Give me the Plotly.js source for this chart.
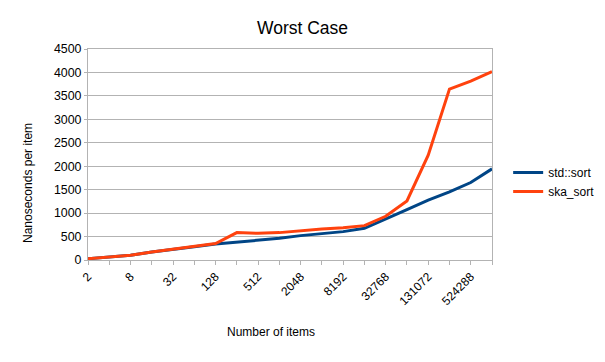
<!DOCTYPE html>
<html><head><meta charset="utf-8">
<script src="https://cdn.plot.ly/plotly-3.0.1.min.js"></script>
<style>html,body{margin:0;padding:0;background:#fff}</style>
</head><body><div id="chart" style="width:605px;height:362px"></div>
<script>
const categories = ['2','4','8','16','32','64','128','256','512','1024','2048','4096','8192','16384','32768','65536','131072','262144','524288','1048576'];
const tickLabels = ['2','','8','','32','','128','','512','','2048','','8192','','32768','','131072','','524288',''];
const stdSort = [28,64,100,170,235,285,340,377,420,463,520,570,605,676,869,1075,1275,1452,1652,1944];
const skaSort = [28,64,100,170,235,285,350,584,570,584,627,662,690,733,933,1260,2236,3645,3816,4016];

const font = 'Liberation Sans, Arial, sans-serif';
const traces = [
  {x: categories, y: stdSort, name: 'std::sort', type: 'scatter', mode: 'lines', line: {color: '#004586', width: 3}},
  {x: categories, y: skaSort, name: 'ska_sort', type: 'scatter', mode: 'lines', line: {color: '#ff420e', width: 3}}
];
const layout = {
  width: 605, height: 362,
  margin: {l: 88, r: 113, t: 49, b: 102, autoexpand: false},
  paper_bgcolor: '#fff', plot_bgcolor: '#fff',
  font: {family: font, size: 12, color: '#000'},
  title: {text: 'Worst Case', font: {family: font, size: 17.5, color: '#000'}, x: 0.5, xanchor: 'center', y: 0.922, yanchor: 'middle'},
  xaxis: {
    type: 'category', range: [0, categories.length - 1],
    tickvals: categories, ticktext: tickLabels, tickangle: -45,
    ticks: 'outside', ticklen: 4, tickcolor: '#b3b3b3',
    showline: true, linecolor: '#b3b3b3', linewidth: 1, mirror: true,
    showgrid: false, zeroline: false, automargin: false,
    tickfont: {family: font, size: 12, color: '#000'}
  },
  yaxis: {
    range: [0, 4500], dtick: 500,
    ticks: 'outside', ticklen: 3, tickcolor: '#b3b3b3',
    showline: true, linecolor: '#b3b3b3', linewidth: 1, mirror: true,
    showgrid: true, gridcolor: '#b3b3b3', zeroline: false, automargin: false,
    tickfont: {family: font, size: 12.4, color: '#000'}
  },
  legend: {x: 1.04, xanchor: 'left', y: 0.37, yanchor: 'middle', font: {family: font, size: 12, color: '#000'}, tracegroupgap: 0, itemwidth: 30, bgcolor: 'rgba(0,0,0,0)'},
  annotations: [
    {text: 'Number of items', xref: 'paper', yref: 'paper', x: (271 - 88) / 404, y: (362 - 102 - 332) / 211, xanchor: 'center', yanchor: 'middle', showarrow: false, font: {family: font, size: 12, color: '#000'}},
    {text: 'Nanoseconds per item', xref: 'paper', yref: 'paper', x: (28 - 88) / 404, y: (260 - 183) / 211, xanchor: 'center', yanchor: 'middle', textangle: -90, showarrow: false, font: {family: font, size: 12, color: '#000'}}
  ]
};
Plotly.newPlot('chart', traces, layout, {displayModeBar: false, staticPlot: true});
</script></body></html>
